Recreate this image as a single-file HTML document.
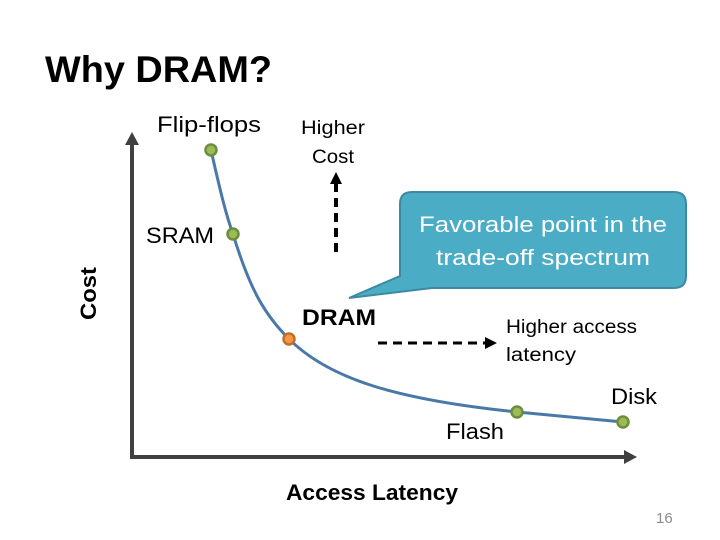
<!DOCTYPE html>
<html><head><meta charset="utf-8"><style>
html,body{margin:0;padding:0;background:#fff;}
svg{display:block;font-family:"Liberation Sans",sans-serif;}
</style></head><body>
<svg width="720" height="540" viewBox="0 0 720 540" xmlns="http://www.w3.org/2000/svg">
<text x="45" y="82" font-size="37" font-weight="bold" textLength="227" lengthAdjust="spacingAndGlyphs" fill="#000">Why DRAM?</text>
<!-- axes -->
<line x1="132" y1="458" x2="132" y2="142" stroke="#404040" stroke-width="4"/>
<polygon points="132,132 125,145 139,145" fill="#404040"/>
<line x1="130" y1="457" x2="626" y2="457" stroke="#404040" stroke-width="4"/>
<polygon points="637,457 624,450 624,464" fill="#404040"/>
<text transform="translate(96,320) rotate(-90)" font-size="22" font-weight="bold" textLength="53" lengthAdjust="spacingAndGlyphs">Cost</text>
<text x="286" y="500" font-size="22" font-weight="bold" textLength="172" lengthAdjust="spacingAndGlyphs">Access Latency</text>
<!-- curve -->
<path d="M211,150 C220,190 226,215 233,234 C250,290 265,315 289,339 C330,380 400,400 517,412 L623,422" fill="none" stroke="#4a78a8" stroke-width="3"/>
<g stroke="#6b8e3a" stroke-width="2.5" fill="#9bbb59">
<circle cx="211" cy="150" r="5.5"/>
<circle cx="233" cy="234" r="5.5"/>
<circle cx="517" cy="412" r="5.5"/>
<circle cx="623" cy="422" r="5.5"/>
</g>
<circle cx="289" cy="339" r="5.5" fill="#f79646" stroke="#c0702a" stroke-width="2.5"/>
<!-- labels -->
<text x="157" y="132" font-size="22" textLength="104" lengthAdjust="spacingAndGlyphs">Flip-flops</text>
<text x="146" y="243" font-size="22" textLength="68" lengthAdjust="spacingAndGlyphs">SRAM</text>
<text x="302" y="325" font-size="22" font-weight="bold" textLength="74" lengthAdjust="spacingAndGlyphs">DRAM</text>
<text x="446" y="439" font-size="22" textLength="58" lengthAdjust="spacingAndGlyphs">Flash</text>
<text x="611" y="404" font-size="22" textLength="46" lengthAdjust="spacingAndGlyphs">Disk</text>
<text x="301" y="134" font-size="19" textLength="64" lengthAdjust="spacingAndGlyphs">Higher</text>
<text x="312" y="163" font-size="19" textLength="42" lengthAdjust="spacingAndGlyphs">Cost</text>
<text x="506" y="333" font-size="19" textLength="131" lengthAdjust="spacingAndGlyphs">Higher access</text>
<text x="506" y="361" font-size="19" textLength="70" lengthAdjust="spacingAndGlyphs">latency</text>
<text x="656" y="523" font-size="15" fill="#8c8c8c">16</text>
<!-- dashed arrows -->
<line x1="336" y1="252" x2="336" y2="184" stroke="#000" stroke-width="4" stroke-dasharray="9,6"/>
<polygon points="336,172 330,184 342,184" fill="#000"/>
<line x1="378" y1="343" x2="486" y2="343" stroke="#000" stroke-width="3" stroke-dasharray="9,6"/>
<polygon points="497,343 485,337 485,349" fill="#000"/>
<!-- callout -->
<path d="M412,192 H674 Q686,192 686,204 V276 Q686,288 674,288 H432 L349,298 L400,276 V204 Q400,192 412,192 Z" fill="#4bacc6" stroke="#3b8aa0" stroke-width="2"/>
<text x="543" y="232" font-size="22" fill="#fff" text-anchor="middle" textLength="248" lengthAdjust="spacingAndGlyphs">Favorable point in the</text>
<text x="543" y="265" font-size="22" fill="#fff" text-anchor="middle" textLength="214" lengthAdjust="spacingAndGlyphs">trade-off spectrum</text>
</svg>
</body></html>
